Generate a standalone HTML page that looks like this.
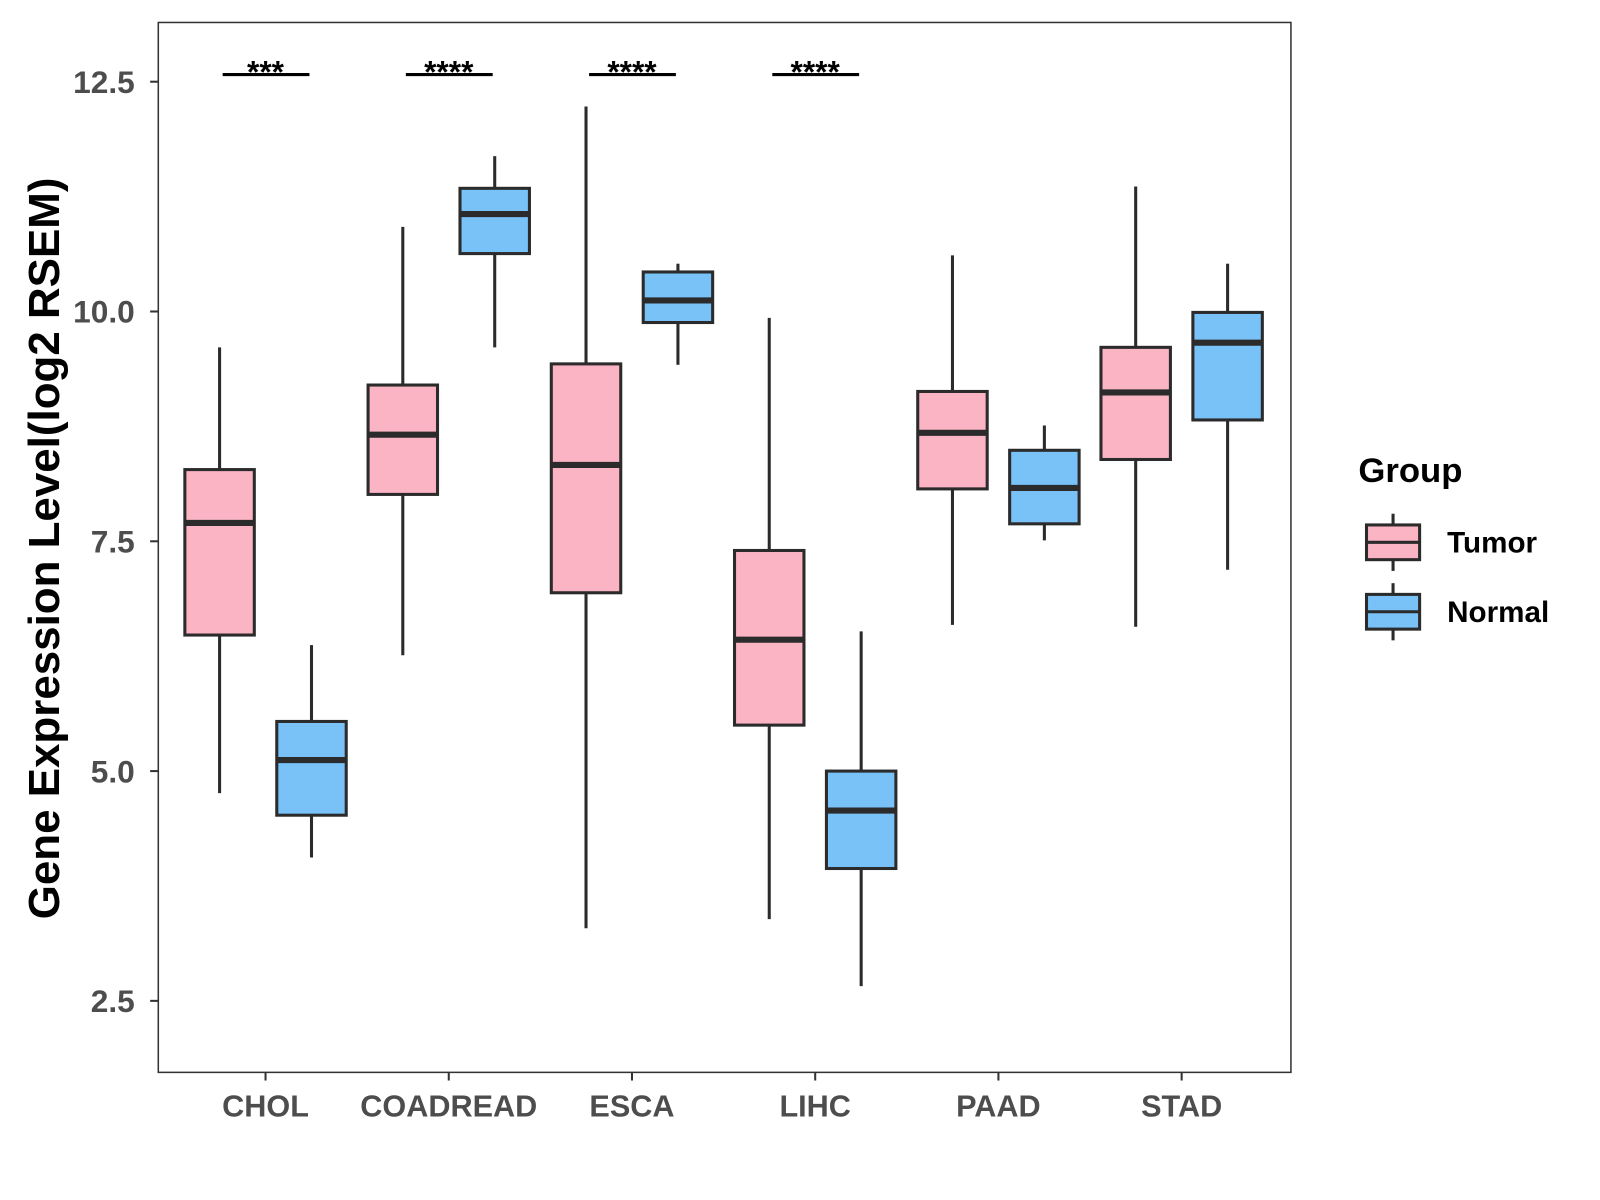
<!DOCTYPE html>
<html><head><meta charset="utf-8"><style>
html,body{margin:0;padding:0;background:#fff;}
svg{display:block;font-family:"Liberation Sans",Arial,sans-serif;}
</style></head><body>
<svg id="chart" width="1600" height="1200" viewBox="0 0 1600 1200"><g id="root" transform="scale(1.0213)"></g></svg>
<script>
const categories=["CHOL","COADREAD","ESCA","LIHC","PAAD","STAD"];
// [low whisker, q1, median, q3, high whisker]
const tumorStats=[[4.76,6.48,7.7,8.28,9.61],[6.26,8.01,8.66,9.2,10.92],[3.29,6.94,8.33,9.43,12.23],[3.39,5.5,6.43,7.4,9.93],[6.59,8.07,8.68,9.13,10.61],[6.57,8.39,9.12,9.61,11.36]];
const normalStats=[[4.06,4.52,5.12,5.54,6.37],[9.61,10.63,11.06,11.34,11.69],[9.42,9.88,10.12,10.43,10.52],[2.66,3.94,4.57,5.0,6.52],[7.51,7.69,8.08,8.49,8.76],[7.19,8.82,9.66,9.99,10.52]];
const sigLabels=["***","****","****","****","",""];
const yTicks=[2.5,5.0,7.5,10.0,12.5];
const yTickLabels=["2.5","5.0","7.5","10.0","12.5"];

const NS="http://www.w3.org/2000/svg";
const svg=document.getElementById("root");
const L=155,R=1264,T=22,B=1050;
const y=v=>80+(12.5-v)*90;
const x=i=>260+i*179.4;
function mk(tag,attrs,parent){const e=document.createElementNS(NS,tag);for(const k in attrs)e.setAttribute(k,attrs[k]);(parent||svg).appendChild(e);return e;}

const frame=mk("rect",{x:L,y:T,width:R-L,height:B-T,fill:"none",stroke:"#333",'stroke-width':1.5});



yTicks.forEach((t,i)=>{
  const tk=mk("line",{x1:L-8,x2:L,y1:y(t),y2:y(t),stroke:"#333",'stroke-width':2});
  
  
  const tx=mk("text",{x:L-23,y:y(t)+11,'text-anchor':"end",'font-size':31,'font-weight':"bold",fill:"#4d4d4d"});
  tx.textContent=yTickLabels[i];
  
  
});
categories.forEach((c,i)=>{
  const tk=mk("line",{x1:x(i),x2:x(i),y1:B,y2:B+8,stroke:"#333",'stroke-width':2});
  
  
  const tx=mk("text",{x:x(i),y:B+43,'text-anchor':"middle",'font-size':30,'font-weight':"bold",fill:"#4d4d4d"});
  tx.textContent=c;
  
  
});

function box(cx,s,fill,name){
  const g=mk("g",{});
  
  
  mk("line",{x1:cx,x2:cx,y1:y(s[0]),y2:y(s[1]),stroke:"#2b2b2b",'stroke-width':3},g);
  mk("line",{x1:cx,x2:cx,y1:y(s[3]),y2:y(s[4]),stroke:"#2b2b2b",'stroke-width':3},g);
  mk("rect",{x:cx-34,y:y(s[3]),width:68,height:y(s[1])-y(s[3]),fill:fill,stroke:"#2b2b2b",'stroke-width':3},g);
  mk("line",{x1:cx-34,x2:cx+34,y1:y(s[2]),y2:y(s[2]),stroke:"#2b2b2b",'stroke-width':6},g);
}
categories.forEach((c,i)=>{
  box(x(i)-45,tumorStats[i],"#FBB4C4","box-tumor-"+c.toLowerCase());
  box(x(i)+45,normalStats[i],"#78C2F8","box-normal-"+c.toLowerCase());
  if(sigLabels[i]){
    const ln=mk("line",{x1:x(i)-42,x2:x(i)+43,y1:73,y2:73,stroke:"#000",'stroke-width':3});
    
    
    const tx=mk("text",{x:x(i),y:81,'text-anchor':"middle",'font-size':31,'font-weight':"bold",fill:"#000"});
    tx.textContent=sigLabels[i];
    
    
  }
});

const yt=mk("text",{x:0,y:0,transform:"translate(58,537) rotate(-90)",'text-anchor':"middle",'font-size':43,'font-weight':"bold",fill:"#000"});
yt.textContent="Gene Expression Level(log2 RSEM)";



const lt=mk("text",{x:1330,y:472,'font-size':34,'font-weight':"bold",fill:"#000"});
lt.textContent="Group";


[["Tumor","#FBB4C4",531],["Normal","#78C2F8",599]].forEach(([n,f,cy])=>{
  const g=mk("g",{});
  
  
  mk("line",{x1:1364,x2:1364,y1:cy-28,y2:cy+28,stroke:"#2b2b2b",'stroke-width':3},g);
  mk("rect",{x:1338,y:cy-17,width:52,height:34,fill:f,stroke:"#2b2b2b",'stroke-width':3},g);
  mk("line",{x1:1338,x2:1390,y1:cy,y2:cy,stroke:"#2b2b2b",'stroke-width':3},g);
  const t=mk("text",{x:1417,y:cy+10,'font-size':29,'font-weight':"bold",fill:"#000"},g);
  t.textContent=n;
});
</script>
</body></html>
